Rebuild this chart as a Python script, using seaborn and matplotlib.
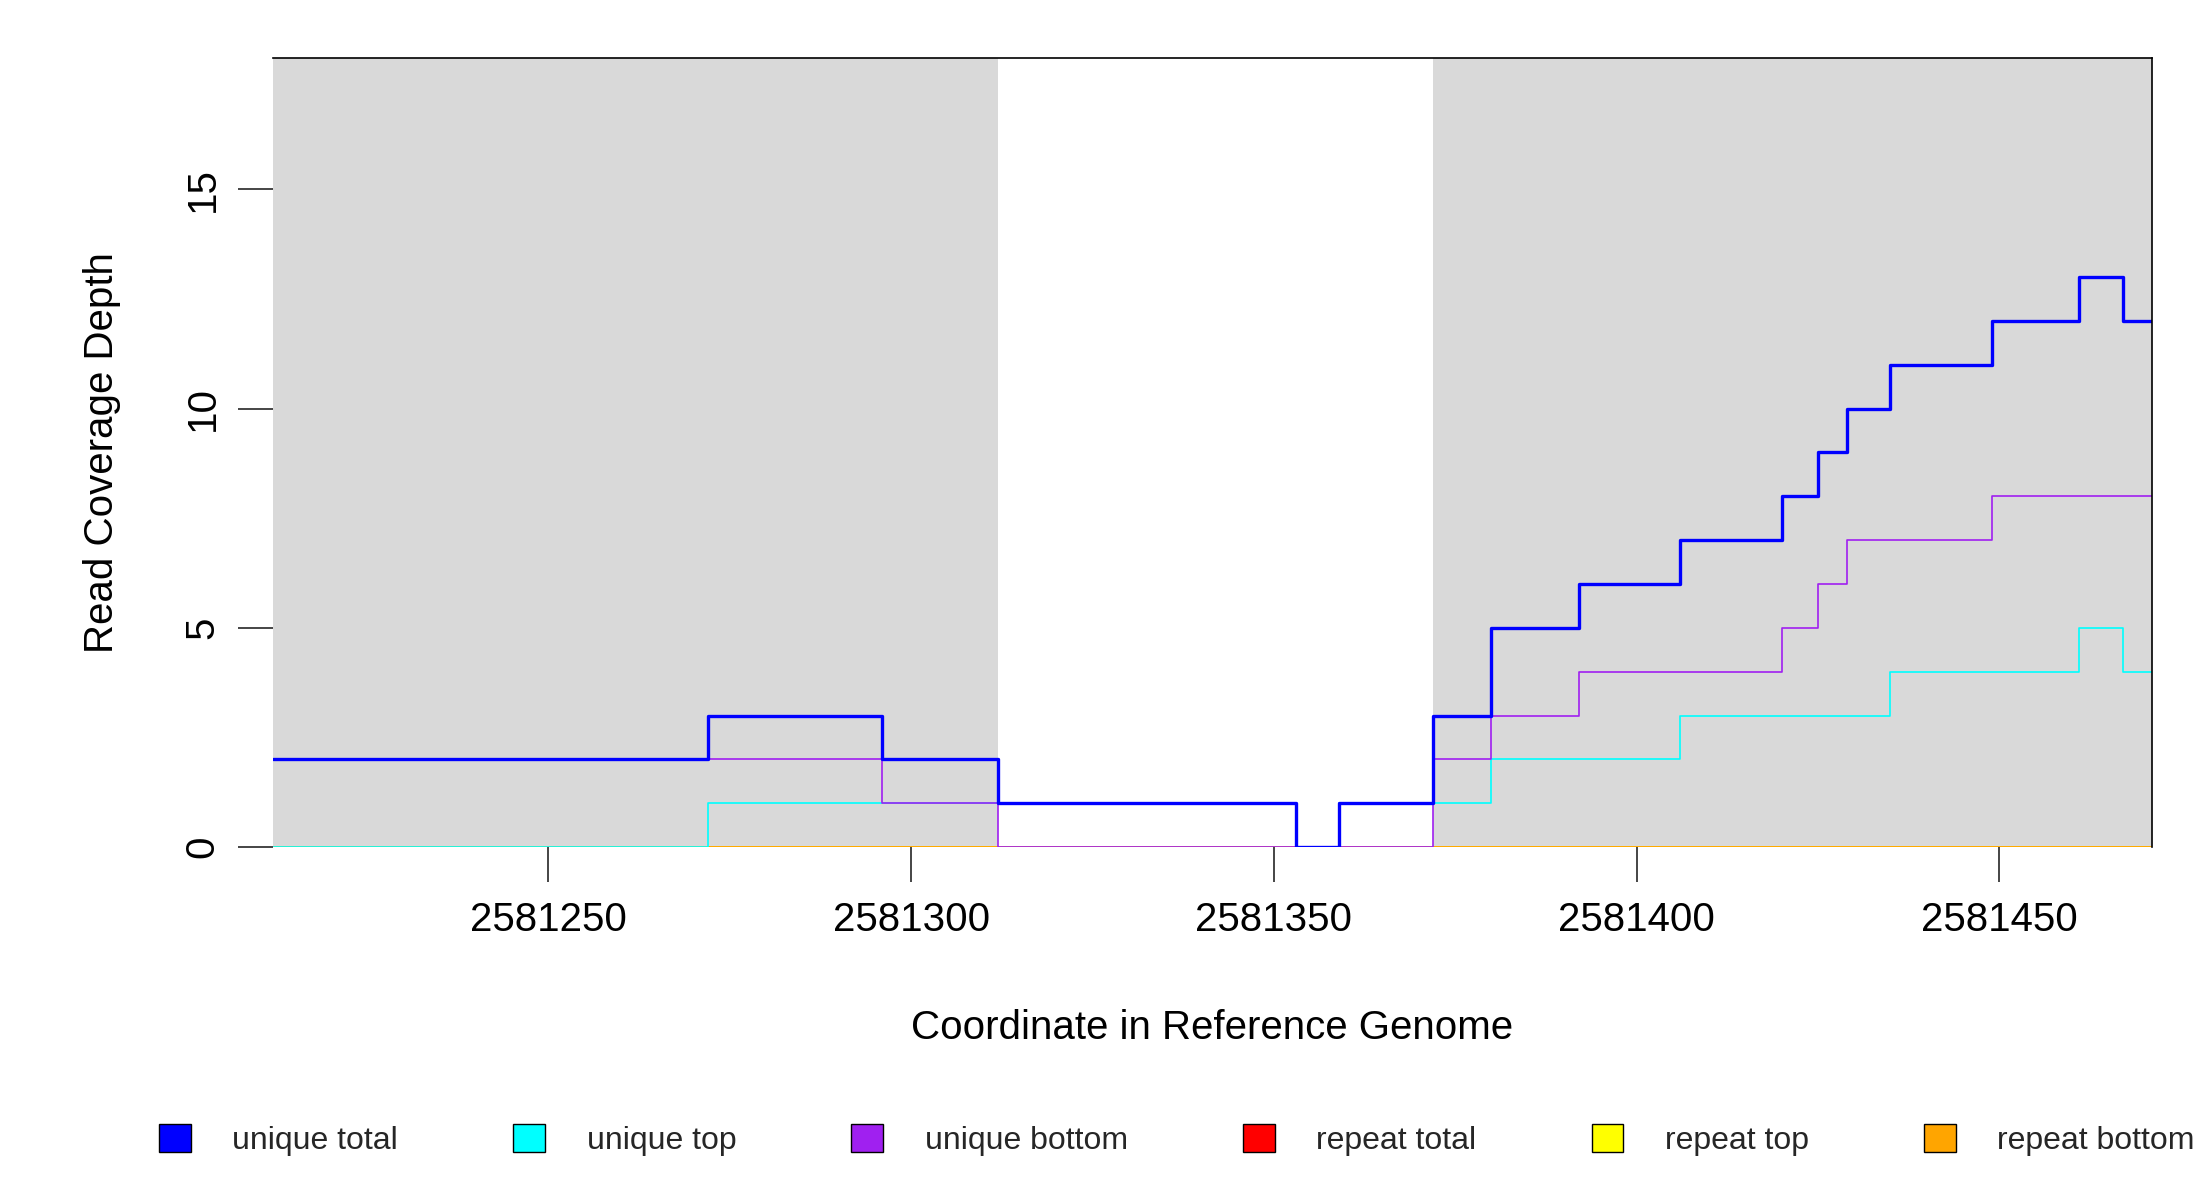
import numpy as np
import pandas as pd
import matplotlib
matplotlib.use("Agg")
import matplotlib.pyplot as plt
import matplotlib.patches as mpatches
import seaborn as sns

# step change points (coordinate where new value starts)
x_start = 2581212
x_end = 2581471
total_x = [2581212, 2581272, 2581296, 2581312, 2581353, 2581359, 2581372, 2581380, 2581392,
           2581406, 2581420, 2581425, 2581429, 2581435, 2581449, 2581461, 2581467]
total_y = [2, 3, 2, 1, 0, 1, 3, 5, 6, 7, 8, 9, 10, 11, 12, 13, 12]
top_x = [2581212, 2581272, 2581353, 2581359, 2581372, 2581380, 2581406, 2581435, 2581461, 2581467]
top_y = [0, 1, 0, 1, 1, 2, 3, 4, 5, 4]
bottom_x = [2581212, 2581296, 2581312, 2581372, 2581380, 2581392, 2581420, 2581425, 2581429, 2581449]
bottom_y = [2, 1, 0, 2, 3, 4, 5, 6, 7, 8]
gray_regions = [(2581212, 2581312), (2581372, 2581471)]

def steps(xs, ys, name):
    return pd.DataFrame({"coord": list(xs) + [x_end], "depth": list(ys) + [ys[-1]], "series": name})

df = pd.concat([
    steps([x_start], [0], "repeat total"),
    steps([x_start], [0], "repeat top"),
    steps([x_start], [0], "repeat bottom"),
    steps(top_x, top_y, "unique top"),
    steps(bottom_x, bottom_y, "unique bottom"),
    steps(total_x, total_y, "unique total"),
])

colors = {"unique total": "blue", "unique top": "cyan", "unique bottom": "#a020f0",
          "repeat total": "red", "repeat top": "yellow", "repeat bottom": "orange"}
widths = {"unique total": 2.4, "repeat bottom": 2.0}

sns.set_style("white")
plt.rcParams["font.family"] = ["Liberation Sans", "DejaVu Sans"]

fig = plt.figure(figsize=(22, 12), dpi=100)
ax = fig.add_axes([0.124, 0.294, 0.854, 0.658])
for a, b in gray_regions:
    ax.axvspan(a, b, color="#d9d9d9", lw=0, zorder=0)

for name in ["repeat total", "repeat top", "repeat bottom", "unique top", "unique bottom", "unique total"]:
    sub = df[df.series == name]
    sns.lineplot(data=sub, x="coord", y="depth", drawstyle="steps-post", estimator=None,
                 color=colors[name], lw=widths.get(name, 1.2), ax=ax, legend=False)

ax.set_xlim(x_start, x_end)
ax.set_ylim(0, 18)
ax.set_xticks([2581250, 2581300, 2581350, 2581400, 2581450])
ax.set_xticklabels(["2581250", "2581300", "2581350", "2581400", "2581450"])
ax.set_yticks([0, 5, 10, 15])
ax.set_yticklabels(["0", "5", "10", "15"], rotation=90, va="center")
ax.tick_params(axis="both", direction="out", length=25, width=1.2, labelsize=29, pad=14,
               left=True, bottom=True, labelcolor="black")
ax.tick_params(axis="y", pad=12)
for s in ax.spines.values():
    s.set_color("black")
    s.set_linewidth(1.2)
ax.spines["bottom"].set_visible(False)
ax.spines["left"].set_visible(False)
ax.set_xlabel("Coordinate in Reference Genome", fontsize=29, labelpad=50, color="black")
ax.set_ylabel("Read Coverage Depth", fontsize=29, labelpad=45, color="black")
ax.margins(0)

names = ["unique total", "unique top", "unique bottom", "repeat total", "repeat top", "repeat bottom"]
handles = [mpatches.Patch(facecolor=colors[n], edgecolor="black", label=n) for n in names]
fig.legend(handles=handles, loc="center", bbox_to_anchor=(0.535, 0.05), ncol=6, frameon=False,
           fontsize=23, handlelength=1.0, handleheight=1.0, columnspacing=3.6, handletextpad=1.3)

fig.savefig("out.png", dpi=100, facecolor="white")
